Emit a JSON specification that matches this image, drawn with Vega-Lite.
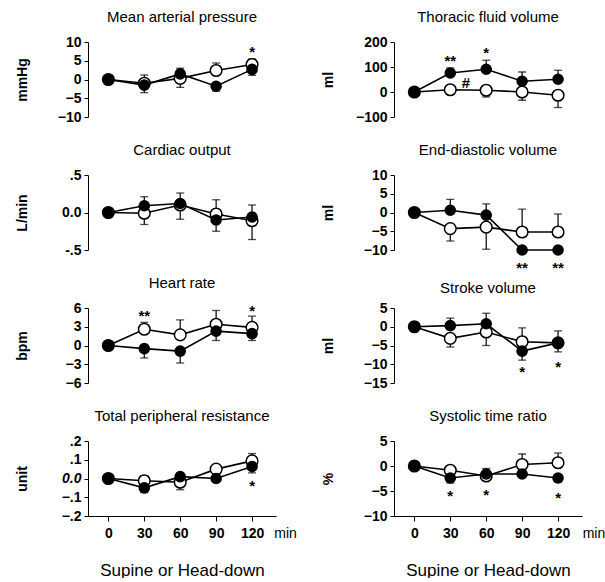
{
  "$schema": "https://vega.github.io/schema/vega-lite/v6.json",
  "padding": {"left": 15, "top": 10, "right": 0, "bottom": 0},
  "bounds": "flush",
  "datasets": {
    "pts": [
      {"p":"MAP","g":"f","t":0,"v":0},{"p":"MAP","g":"f","t":30,"v":-1.5,"e":-3.5},{"p":"MAP","g":"f","t":60,"v":1.5,"e":3.0},{"p":"MAP","g":"f","t":90,"v":-1.8,"e":-3.1},{"p":"MAP","g":"f","t":120,"v":2.7,"e":1.1},
      {"p":"MAP","g":"o","t":0,"v":0},{"p":"MAP","g":"o","t":30,"v":-1.0,"e":1.2},{"p":"MAP","g":"o","t":60,"v":0.3,"e":-2.1},{"p":"MAP","g":"o","t":90,"v":2.4,"e":4.4},{"p":"MAP","g":"o","t":120,"v":4.0,"e":5.5},
      {"p":"TFV","g":"f","t":0,"v":0},{"p":"TFV","g":"f","t":30,"v":76,"e":96},{"p":"TFV","g":"f","t":60,"v":91,"e":127},{"p":"TFV","g":"f","t":90,"v":43,"e":80},{"p":"TFV","g":"f","t":120,"v":51,"e":87},
      {"p":"TFV","g":"o","t":0,"v":0},{"p":"TFV","g":"o","t":30,"v":9},{"p":"TFV","g":"o","t":60,"v":7,"e":-20},{"p":"TFV","g":"o","t":90,"v":0,"e":-33},{"p":"TFV","g":"o","t":120,"v":-13,"e":-62},
      {"p":"CO","g":"f","t":0,"v":0},{"p":"CO","g":"f","t":30,"v":0.09,"e":0.21},{"p":"CO","g":"f","t":60,"v":0.12,"e":0.26},{"p":"CO","g":"f","t":90,"v":-0.10,"e":-0.25},{"p":"CO","g":"f","t":120,"v":-0.06,"e":0.10},
      {"p":"CO","g":"o","t":0,"v":0},{"p":"CO","g":"o","t":30,"v":-0.01,"e":-0.16},{"p":"CO","g":"o","t":60,"v":0.10,"e":-0.09},{"p":"CO","g":"o","t":90,"v":-0.02,"e":0.17},{"p":"CO","g":"o","t":120,"v":-0.11,"e":-0.36},
      {"p":"EDV","g":"f","t":0,"v":0},{"p":"EDV","g":"f","t":30,"v":0.6,"e":3.5},{"p":"EDV","g":"f","t":60,"v":-0.7,"e":2.3},{"p":"EDV","g":"f","t":90,"v":-10},{"p":"EDV","g":"f","t":120,"v":-10},
      {"p":"EDV","g":"o","t":0,"v":0},{"p":"EDV","g":"o","t":30,"v":-4.3,"e":-7.6},{"p":"EDV","g":"o","t":60,"v":-3.9,"e":-9.8},{"p":"EDV","g":"o","t":90,"v":-5.2,"e":0.9},{"p":"EDV","g":"o","t":120,"v":-5.2,"e":-0.4},
      {"p":"HR","g":"f","t":0,"v":0},{"p":"HR","g":"f","t":30,"v":-0.5,"e":-2.0},{"p":"HR","g":"f","t":60,"v":-0.9,"e":-2.8},{"p":"HR","g":"f","t":90,"v":2.3,"e":0.8},{"p":"HR","g":"f","t":120,"v":1.9,"e":0.8},
      {"p":"HR","g":"o","t":0,"v":0},{"p":"HR","g":"o","t":30,"v":2.6,"e":3.7},{"p":"HR","g":"o","t":60,"v":1.7,"e":4.1},{"p":"HR","g":"o","t":90,"v":3.4,"e":5.6},{"p":"HR","g":"o","t":120,"v":2.9,"e":4.7},
      {"p":"SV","g":"f","t":0,"v":0},{"p":"SV","g":"f","t":30,"v":0.3,"e":2.3},{"p":"SV","g":"f","t":60,"v":0.8,"e":3.6},{"p":"SV","g":"f","t":90,"v":-6.5,"e":-8.9},{"p":"SV","g":"f","t":120,"v":-4.3,"e":-6.7},
      {"p":"SV","g":"o","t":0,"v":0},{"p":"SV","g":"o","t":30,"v":-3.1,"e":-5.4},{"p":"SV","g":"o","t":60,"v":-1.4,"e":-5.0},{"p":"SV","g":"o","t":90,"v":-4.0,"e":-0.3},{"p":"SV","g":"o","t":120,"v":-4.3,"e":-1.1},
      {"p":"TPR","g":"f","t":0,"v":0},{"p":"TPR","g":"f","t":30,"v":-0.05,"e":-0.075},{"p":"TPR","g":"f","t":60,"v":0.01},{"p":"TPR","g":"f","t":90,"v":0.0},{"p":"TPR","g":"f","t":120,"v":0.064,"e":0.03},
      {"p":"TPR","g":"o","t":0,"v":0},{"p":"TPR","g":"o","t":30,"v":-0.012,"e":0.015},{"p":"TPR","g":"o","t":60,"v":-0.02,"e":-0.06},{"p":"TPR","g":"o","t":90,"v":0.05,"e":0.07},{"p":"TPR","g":"o","t":120,"v":0.094,"e":0.133},
      {"p":"STR","g":"f","t":0,"v":0},{"p":"STR","g":"f","t":30,"v":-2.4,"e":-3.4},{"p":"STR","g":"f","t":60,"v":-1.6,"e":-0.5},{"p":"STR","g":"f","t":90,"v":-1.6},{"p":"STR","g":"f","t":120,"v":-2.4,"e":-3.2},
      {"p":"STR","g":"o","t":0,"v":0},{"p":"STR","g":"o","t":30,"v":-0.85},{"p":"STR","g":"o","t":60,"v":-2.0,"e":-2.8},{"p":"STR","g":"o","t":90,"v":0.3,"e":2.4},{"p":"STR","g":"o","t":120,"v":0.65,"e":2.6}
    ],
    "ann": [
      {"p":"MAP","t":120,"v":8.5,"s":"*"},
      {"p":"TFV","t":30,"v":140,"s":"**"},{"p":"TFV","t":60,"v":174,"s":"*"},{"p":"TFV","t":43,"v":52,"s":"#"},
      {"p":"EDV","t":90,"v":-13.7,"s":"**"},{"p":"EDV","t":120,"v":-13.7,"s":"**"},
      {"p":"HR","t":30,"v":5.4,"s":"**"},{"p":"HR","t":120,"v":6.2,"s":"*"},
      {"p":"SV","t":90,"v":-10.9,"s":"*"},{"p":"SV","t":120,"v":-9.7,"s":"*"},
      {"p":"TPR","t":120,"v":-0.021,"s":"*"},
      {"p":"STR","t":30,"v":-5.2,"s":"*"},{"p":"STR","t":60,"v":-4.9,"s":"*"},{"p":"STR","t":120,"v":-5.5,"s":"*"},
      {"p":"TPR","t":148,"v":-0.2,"s":"min"},{"p":"STR","t":150,"v":-10,"s":"min"}
    ]
  },
  "columns": 2,
  "spacing": {"row": 58, "column": 118},
  "concat": [
    {"title":"Mean arterial pressure","width":188,"height":75,
     "encoding":{"x":{"field":"t","type":"quantitative","scale":{"domain":[-17,140]},"axis":null},"y":{"field":"v","type":"quantitative","scale":{"domain":[-10,10]},"axis":{"values":[-10,-5,0,5,10],"title":"mmHg"}}},
     "layer":[
      {"data":{"name":"pts"},"transform":[{"filter":"datum.p=='MAP'"}],"mark":{"type":"line","color":"black","strokeWidth":1.6},"encoding":{"detail":{"field":"g"}}},
      {"data":{"name":"pts"},"transform":[{"filter":"datum.p=='MAP' && isValid(datum.e)"}],"mark":{"type":"rule","color":"black","strokeWidth":1.2},"encoding":{"y2":{"field":"e"}}},
      {"data":{"name":"pts"},"transform":[{"filter":"datum.p=='MAP' && isValid(datum.e)"}],"mark":{"type":"tick","orient":"horizontal","color":"black","size":8,"thickness":1.3},"encoding":{"y":{"field":"e","type":"quantitative","scale":{"domain":[-10,10]},"title":"mmHg"}}},
      {"data":{"name":"pts"},"transform":[{"filter":"datum.p=='MAP' && datum.g=='o'"}],"mark":{"type":"point","shape":"circle","filled":true,"fill":"white","stroke":"black","strokeWidth":1.5,"size":135,"opacity":1}},
      {"data":{"name":"pts"},"transform":[{"filter":"datum.p=='MAP' && datum.g=='f'"}],"mark":{"type":"point","shape":"circle","filled":true,"color":"black","size":135,"opacity":1}},
      {"data":{"name":"ann"},"transform":[{"filter":"datum.p=='MAP' && datum.s!='min'"}],"mark":{"type":"text","fontSize":15,"fontWeight":"bold","color":"black","dy":4},"encoding":{"text":{"field":"s"}}}
    ]},
    {"title":"Thoracic fluid volume","width":188,"height":75,
     "encoding":{"x":{"field":"t","type":"quantitative","scale":{"domain":[-17,140]},"axis":null},"y":{"field":"v","type":"quantitative","scale":{"domain":[-100,200]},"axis":{"values":[-100,0,100,200],"title":"ml"}}},
     "layer":[
      {"data":{"name":"pts"},"transform":[{"filter":"datum.p=='TFV'"}],"mark":{"type":"line","color":"black","strokeWidth":1.6},"encoding":{"detail":{"field":"g"}}},
      {"data":{"name":"pts"},"transform":[{"filter":"datum.p=='TFV' && isValid(datum.e)"}],"mark":{"type":"rule","color":"black","strokeWidth":1.2},"encoding":{"y2":{"field":"e"}}},
      {"data":{"name":"pts"},"transform":[{"filter":"datum.p=='TFV' && isValid(datum.e)"}],"mark":{"type":"tick","orient":"horizontal","color":"black","size":8,"thickness":1.3},"encoding":{"y":{"field":"e","type":"quantitative","scale":{"domain":[-100,200]},"title":"ml"}}},
      {"data":{"name":"pts"},"transform":[{"filter":"datum.p=='TFV' && datum.g=='o'"}],"mark":{"type":"point","shape":"circle","filled":true,"fill":"white","stroke":"black","strokeWidth":1.5,"size":135,"opacity":1}},
      {"data":{"name":"pts"},"transform":[{"filter":"datum.p=='TFV' && datum.g=='f'"}],"mark":{"type":"point","shape":"circle","filled":true,"color":"black","size":135,"opacity":1}},
      {"data":{"name":"ann"},"transform":[{"filter":"datum.p=='TFV' && datum.s!='min'"}],"mark":{"type":"text","fontSize":15,"fontWeight":"bold","color":"black","dy":4},"encoding":{"text":{"field":"s"}}}
    ]},
    {"title":"Cardiac output","width":188,"height":75,
     "encoding":{"x":{"field":"t","type":"quantitative","scale":{"domain":[-17,140]},"axis":null},"y":{"field":"v","type":"quantitative","scale":{"domain":[-0.5,0.5]},"axis":{"values":[-0.5,0,0.5],"labelExpr":"datum.value==0 ? '0.0' : (datum.value>0 ? '.5' : '-.5')","title":"L/min"}}},
     "layer":[
      {"data":{"name":"pts"},"transform":[{"filter":"datum.p=='CO'"}],"mark":{"type":"line","color":"black","strokeWidth":1.6},"encoding":{"detail":{"field":"g"}}},
      {"data":{"name":"pts"},"transform":[{"filter":"datum.p=='CO' && isValid(datum.e)"}],"mark":{"type":"rule","color":"black","strokeWidth":1.2},"encoding":{"y2":{"field":"e"}}},
      {"data":{"name":"pts"},"transform":[{"filter":"datum.p=='CO' && isValid(datum.e)"}],"mark":{"type":"tick","orient":"horizontal","color":"black","size":8,"thickness":1.3},"encoding":{"y":{"field":"e","type":"quantitative","scale":{"domain":[-0.5,0.5]},"title":"L/min"}}},
      {"data":{"name":"pts"},"transform":[{"filter":"datum.p=='CO' && datum.g=='o'"}],"mark":{"type":"point","shape":"circle","filled":true,"fill":"white","stroke":"black","strokeWidth":1.5,"size":135,"opacity":1}},
      {"data":{"name":"pts"},"transform":[{"filter":"datum.p=='CO' && datum.g=='f'"}],"mark":{"type":"point","shape":"circle","filled":true,"color":"black","size":135,"opacity":1}}
    ]},
    {"title":"End-diastolic  volume","width":188,"height":75,
     "encoding":{"x":{"field":"t","type":"quantitative","scale":{"domain":[-17,140]},"axis":null},"y":{"field":"v","type":"quantitative","scale":{"domain":[-10,10]},"axis":{"values":[-10,-5,0,5,10],"title":"ml"}}},
     "layer":[
      {"data":{"name":"pts"},"transform":[{"filter":"datum.p=='EDV'"}],"mark":{"type":"line","color":"black","strokeWidth":1.6},"encoding":{"detail":{"field":"g"}}},
      {"data":{"name":"pts"},"transform":[{"filter":"datum.p=='EDV' && isValid(datum.e)"}],"mark":{"type":"rule","color":"black","strokeWidth":1.2},"encoding":{"y2":{"field":"e"}}},
      {"data":{"name":"pts"},"transform":[{"filter":"datum.p=='EDV' && isValid(datum.e)"}],"mark":{"type":"tick","orient":"horizontal","color":"black","size":8,"thickness":1.3},"encoding":{"y":{"field":"e","type":"quantitative","scale":{"domain":[-10,10]},"title":"ml"}}},
      {"data":{"name":"pts"},"transform":[{"filter":"datum.p=='EDV' && datum.g=='o'"}],"mark":{"type":"point","shape":"circle","filled":true,"fill":"white","stroke":"black","strokeWidth":1.5,"size":135,"opacity":1}},
      {"data":{"name":"pts"},"transform":[{"filter":"datum.p=='EDV' && datum.g=='f'"}],"mark":{"type":"point","shape":"circle","filled":true,"color":"black","size":135,"opacity":1}},
      {"data":{"name":"ann"},"transform":[{"filter":"datum.p=='EDV' && datum.s!='min'"}],"mark":{"type":"text","fontSize":15,"fontWeight":"bold","color":"black","dy":4},"encoding":{"text":{"field":"s"}}}
    ]},
    {"title":"Heart rate","width":188,"height":75,
     "encoding":{"x":{"field":"t","type":"quantitative","scale":{"domain":[-17,140]},"axis":null},"y":{"field":"v","type":"quantitative","scale":{"domain":[-6,6]},"axis":{"values":[-6,-3,0,3,6],"title":"bpm"}}},
     "layer":[
      {"data":{"name":"pts"},"transform":[{"filter":"datum.p=='HR'"}],"mark":{"type":"line","color":"black","strokeWidth":1.6},"encoding":{"detail":{"field":"g"}}},
      {"data":{"name":"pts"},"transform":[{"filter":"datum.p=='HR' && isValid(datum.e)"}],"mark":{"type":"rule","color":"black","strokeWidth":1.2},"encoding":{"y2":{"field":"e"}}},
      {"data":{"name":"pts"},"transform":[{"filter":"datum.p=='HR' && isValid(datum.e)"}],"mark":{"type":"tick","orient":"horizontal","color":"black","size":8,"thickness":1.3},"encoding":{"y":{"field":"e","type":"quantitative","scale":{"domain":[-6,6]},"title":"bpm"}}},
      {"data":{"name":"pts"},"transform":[{"filter":"datum.p=='HR' && datum.g=='o'"}],"mark":{"type":"point","shape":"circle","filled":true,"fill":"white","stroke":"black","strokeWidth":1.5,"size":135,"opacity":1}},
      {"data":{"name":"pts"},"transform":[{"filter":"datum.p=='HR' && datum.g=='f'"}],"mark":{"type":"point","shape":"circle","filled":true,"color":"black","size":135,"opacity":1}},
      {"data":{"name":"ann"},"transform":[{"filter":"datum.p=='HR' && datum.s!='min'"}],"mark":{"type":"text","fontSize":15,"fontWeight":"bold","color":"black","dy":4},"encoding":{"text":{"field":"s"}}}
    ]},
    {"title":{"text":"Stroke volume","offset":5},"width":188,"height":75,
     "encoding":{"x":{"field":"t","type":"quantitative","scale":{"domain":[-17,140]},"axis":null},"y":{"field":"v","type":"quantitative","scale":{"domain":[-15,5]},"axis":{"values":[-15,-10,-5,0,5],"title":"ml"}}},
     "layer":[
      {"data":{"name":"pts"},"transform":[{"filter":"datum.p=='SV'"}],"mark":{"type":"line","color":"black","strokeWidth":1.6},"encoding":{"detail":{"field":"g"}}},
      {"data":{"name":"pts"},"transform":[{"filter":"datum.p=='SV' && isValid(datum.e)"}],"mark":{"type":"rule","color":"black","strokeWidth":1.2},"encoding":{"y2":{"field":"e"}}},
      {"data":{"name":"pts"},"transform":[{"filter":"datum.p=='SV' && isValid(datum.e)"}],"mark":{"type":"tick","orient":"horizontal","color":"black","size":8,"thickness":1.3},"encoding":{"y":{"field":"e","type":"quantitative","scale":{"domain":[-15,5]},"title":"ml"}}},
      {"data":{"name":"pts"},"transform":[{"filter":"datum.p=='SV' && datum.g=='o'"}],"mark":{"type":"point","shape":"circle","filled":true,"fill":"white","stroke":"black","strokeWidth":1.5,"size":135,"opacity":1}},
      {"data":{"name":"pts"},"transform":[{"filter":"datum.p=='SV' && datum.g=='f'"}],"mark":{"type":"point","shape":"circle","filled":true,"color":"black","size":135,"opacity":1}},
      {"data":{"name":"ann"},"transform":[{"filter":"datum.p=='SV' && datum.s!='min'"}],"mark":{"type":"text","fontSize":15,"fontWeight":"bold","color":"black","dy":4},"encoding":{"text":{"field":"s"}}}
    ]},
    {"title":"Total peripheral resistance","width":188,"height":75,
     "encoding":{"x":{"field":"t","type":"quantitative","scale":{"domain":[-17,140]},"axis":{"values":[0,30,60,90,120],"title":"Supine or Head-down","titleFontSize":17,"titleFontWeight":"normal","labelFontSize":14,"labelPadding":5,"tickSize":5,"titlePadding":22}},"y":{"field":"v","type":"quantitative","scale":{"domain":[-0.2,0.2]},"axis":{"values":[-0.2,-0.1,0,0.1,0.2],"labelExpr":"datum.value==0 ? '0.0' : replace(format(datum.value,'.1f'),'0.','.')","labelFontStyle":{"condition":{"test":"datum.value==0","value":"italic"},"value":"normal"},"title":"unit"}}},
     "layer":[
      {"data":{"name":"pts"},"transform":[{"filter":"datum.p=='TPR'"}],"mark":{"type":"line","color":"black","strokeWidth":1.6},"encoding":{"detail":{"field":"g"}}},
      {"data":{"name":"pts"},"transform":[{"filter":"datum.p=='TPR' && isValid(datum.e)"}],"mark":{"type":"rule","color":"black","strokeWidth":1.2},"encoding":{"y2":{"field":"e"}}},
      {"data":{"name":"pts"},"transform":[{"filter":"datum.p=='TPR' && isValid(datum.e)"}],"mark":{"type":"tick","orient":"horizontal","color":"black","size":8,"thickness":1.3},"encoding":{"y":{"field":"e","type":"quantitative","scale":{"domain":[-0.2,0.2]},"title":"unit"}}},
      {"data":{"name":"pts"},"transform":[{"filter":"datum.p=='TPR' && datum.g=='o'"}],"mark":{"type":"point","shape":"circle","filled":true,"fill":"white","stroke":"black","strokeWidth":1.5,"size":135,"opacity":1}},
      {"data":{"name":"pts"},"transform":[{"filter":"datum.p=='TPR' && datum.g=='f'"}],"mark":{"type":"point","shape":"circle","filled":true,"color":"black","size":135,"opacity":1}},
      {"data":{"name":"ann"},"transform":[{"filter":"datum.p=='TPR' && datum.s!='min'"}],"mark":{"type":"text","fontSize":15,"fontWeight":"bold","color":"black","dy":4},"encoding":{"text":{"field":"s"}}},
      {"data":{"name":"ann"},"transform":[{"filter":"datum.p=='TPR' && datum.s=='min'"}],"mark":{"type":"text","fontSize":14,"fontWeight":"normal","color":"black","baseline":"top","dy":11},"encoding":{"text":{"field":"s"}}}
    ]},
    {"title":"Systolic time ratio","width":188,"height":75,
     "encoding":{"x":{"field":"t","type":"quantitative","scale":{"domain":[-17,140]},"axis":{"values":[0,30,60,90,120],"title":"Supine or Head-down","titleFontSize":17,"titleFontWeight":"normal","labelFontSize":14,"labelPadding":5,"tickSize":5,"titlePadding":22}},"y":{"field":"v","type":"quantitative","scale":{"domain":[-10,5]},"axis":{"values":[-10,-5,0,5],"title":"%"}}},
     "layer":[
      {"data":{"name":"pts"},"transform":[{"filter":"datum.p=='STR'"}],"mark":{"type":"line","color":"black","strokeWidth":1.6},"encoding":{"detail":{"field":"g"}}},
      {"data":{"name":"pts"},"transform":[{"filter":"datum.p=='STR' && isValid(datum.e)"}],"mark":{"type":"rule","color":"black","strokeWidth":1.2},"encoding":{"y2":{"field":"e"}}},
      {"data":{"name":"pts"},"transform":[{"filter":"datum.p=='STR' && isValid(datum.e)"}],"mark":{"type":"tick","orient":"horizontal","color":"black","size":8,"thickness":1.3},"encoding":{"y":{"field":"e","type":"quantitative","scale":{"domain":[-10,5]},"title":"%"}}},
      {"data":{"name":"pts"},"transform":[{"filter":"datum.p=='STR' && datum.g=='o'"}],"mark":{"type":"point","shape":"circle","filled":true,"fill":"white","stroke":"black","strokeWidth":1.5,"size":135,"opacity":1}},
      {"data":{"name":"pts"},"transform":[{"filter":"datum.p=='STR' && datum.g=='f'"}],"mark":{"type":"point","shape":"circle","filled":true,"color":"black","size":135,"opacity":1}},
      {"data":{"name":"ann"},"transform":[{"filter":"datum.p=='STR' && datum.s!='min'"}],"mark":{"type":"text","fontSize":15,"fontWeight":"bold","color":"black","dy":4},"encoding":{"text":{"field":"s"}}},
      {"data":{"name":"ann"},"transform":[{"filter":"datum.p=='STR' && datum.s=='min'"}],"mark":{"type":"text","fontSize":14,"fontWeight":"normal","color":"black","baseline":"top","dy":11},"encoding":{"text":{"field":"s"}}}
    ]}
  ],
  "config": {
    "font": "Liberation Sans",
    "view": {"stroke": null},
    "axisY": {"labelPadding": 3, "minExtent": 30, "maxExtent": 30, "titlePadding": 29},
    "axis": {"labelFontSize": 14, "labelFontWeight": "bold", "labelColor": "black", "domainColor": "black", "tickColor": "black", "titleColor": "black", "titleFontSize": 14, "titleFontWeight": "bold", "grid": false, "tickSize": 4},
    "title": {"fontSize": 15, "fontWeight": "normal", "color": "black", "offset": 10}
  }
}
